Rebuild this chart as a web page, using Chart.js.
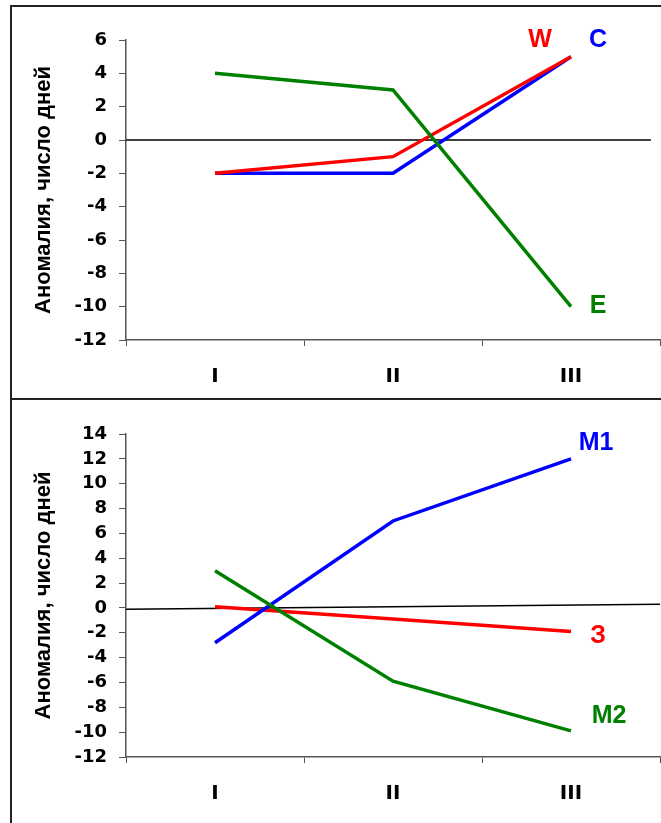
<!DOCTYPE html>
<html>
<head>
<meta charset="utf-8">
<script src="https://cdn.jsdelivr.net/npm/chart.js@4/dist/chart.umd.min.js"></script>
<style>
  body { margin: 0; background: #fff; width: 661px; height: 823px; position: relative; overflow: hidden; }
  .panel { position: absolute; left: 10px; width: 700px; border: 2px solid #222; }
  canvas { position: absolute; left: 0; }
</style>
</head>
<body>
<div class="panel" style="top:5px; height:391px;"></div>
<div class="panel" style="top:398px; height:500px;"></div>
<canvas id="topChart" width="661" height="399" style="top:0"></canvas>
<canvas id="bottomChart" width="661" height="423" style="top:400px"></canvas>
<script>
// categories
const periods = ['I', 'II', 'III'];

// top chart: W, C, E
const topNames = ['W', 'C', 'E'];
const topW = [-2, -1, 5];
const topC = [-2, -2, 5];
const topE = [4, 3, -10];
const topTicks = [6, 4, 2, 0, -2, -4, -6, -8, -10, -12];

// bottom chart: М1, З, М2
const bottomNames = ['М1', 'З', 'М2'];
const bottomM1 = [-2.8, 7, 12];
const bottomZ = [0.1, -0.9, -1.9];
const bottomM2 = [3, -5.9, -9.9];
const bottomTicks = [14, 12, 10, 8, 6, 4, 2, 0, -2, -4, -6, -8, -10, -12];

const yTitle = 'Аномалия, число дней';
const FONT = "'Liberation Sans', Arial, sans-serif";
const TICK_FONT = "'DejaVu Sans', sans-serif";
const RED = '#ff0000', BLUE = '#0000ff', GREEN = '#008000';

// zero line + series names at the last point
const endLabels = {
  id: 'endLabels',
  beforeDatasetsDraw(chart, args, opts) {
    const {ctx, chartArea: a, scales: {y}} = chart;
    ctx.save();
    ctx.strokeStyle = '#000';
    ctx.lineWidth = 1.5;
    ctx.beginPath();
    ctx.moveTo(a.left, y.getPixelForValue(opts.zero[0]));
    ctx.lineTo(a.left + (a.right - a.left) * opts.zeroEnd, y.getPixelForValue(opts.zero[1]));
    ctx.stroke();
    ctx.restore();
  },
  afterDatasetsDraw(chart) {
    const ctx = chart.ctx;
    ctx.save();
    ctx.font = 'bold 25px ' + FONT;
    ctx.textAlign = 'center';
    ctx.textBaseline = 'middle';
    chart.data.datasets.forEach((ds, i) => {
      const pts = chart.getDatasetMeta(i).data;
      const p = pts[pts.length - 1];
      ctx.fillStyle = ds.borderColor;
      ctx.fillText(ds.label, p.x + ds.labelDx, p.y + ds.labelDy);
    });
    ctx.restore();
  }
};

function makeChart(id, sets, ticks, top, xHeight, zero, zeroEnd) {
  return new Chart(document.getElementById(id), {
    type: 'line',
    data: { labels: periods, datasets: sets },
    options: {
      responsive: false,
      animation: false,
      events: [],
      layout: { padding: { left: 0, right: 1, top: top, bottom: 0 } },
      plugins: { legend: { display: false }, tooltip: { enabled: false }, endLabels: { zero, zeroEnd } },
      elements: { point: { radius: 0 }, line: { borderWidth: 3.5, tension: 0 } },
      scales: {
        x: {
          offset: true,
          grid: { offset: true, drawOnChartArea: false, tickLength: 6, color: '#555' },
          border: { color: '#555', width: 1.5 },
          ticks: { color: '#000', padding: 19, font: { family: TICK_FONT, size: 20, weight: 'bold' } },
          afterFit: s => { s.height = xHeight; }
        },
        y: {
          min: Math.min(...ticks),
          max: Math.max(...ticks),
          afterBuildTicks: s => { s.ticks = ticks.map(v => ({ value: v })); },
          grid: { drawOnChartArea: false, tickLength: 7, color: '#555' },
          border: { color: '#555', width: 1.5 },
          ticks: { color: '#000', padding: 12, font: { family: TICK_FONT, size: 18, weight: 'bold' } },
          title: {
            display: true, text: yTitle, color: '#000',
            font: { family: FONT, size: 22, weight: 'bold' },
            padding: { top: 31, bottom: 0 }
          },
          afterFit: s => { s.width = 126; }
        }
      }
    },
    plugins: [endLabels]
  });
}

makeChart('topChart', [
  { label: topNames[2], data: topE, borderColor: GREEN, labelDx: 27, labelDy: -1 },
  { label: topNames[0], data: topW, borderColor: RED, labelDx: -31, labelDy: -17 },
  { label: topNames[1], data: topC, borderColor: BLUE, labelDx: 27, labelDy: -17 }
], topTicks, 40, 59, [0, 0], 0.983);

makeChart('bottomChart', [
  { label: bottomNames[2], data: bottomM2, borderColor: GREEN, labelDx: 38, labelDy: -15 },
  { label: bottomNames[0], data: bottomM1, borderColor: BLUE, labelDx: 25, labelDy: -16 },
  { label: bottomNames[1], data: bottomZ, borderColor: RED, labelDx: 27, labelDy: 5 }
], bottomTicks, 34, 66, [-0.1, 0.3], 1);
</script>
</body>
</html>
